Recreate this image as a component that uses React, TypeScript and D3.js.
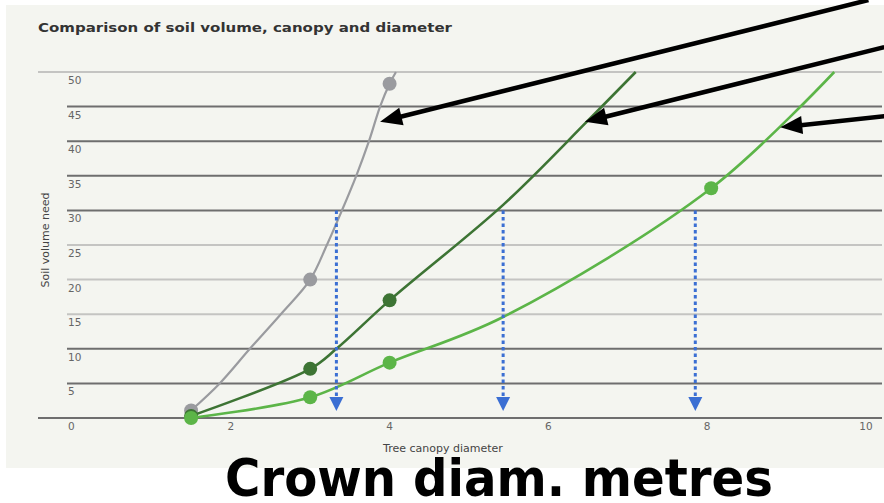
import React from "react";
import * as d3 from "d3";

const title = "Comparison of soil volume, canopy and diameter";
const yTicks = [0, 5, 10, 15, 20, 25, 30, 35, 40, 45, 50];
const xTicks = [0, 2, 4, 6, 8, 10];
const darkGridTicks = [0, 5, 10, 30, 35, 40, 45];

// Series (x = canopy diameter, y = soil volume)
const grayX = [1.5, 1.86, 2.24, 2.63, 3, 3.21, 3.4, 3.58, 3.74, 3.88, 4, 4.08];
const grayY = [1.1, 5, 10, 15, 20, 25, 30, 35, 40, 45, 48.3, 50];
const grayMarkers = [0, 4, 10];

const darkX = [1.5, 3, 3.33, 4, 5.43, 6.5, 7.1];
const darkY = [0.3, 7.1, 10, 17, 30.8, 43, 50];
const darkMarkers = [0, 1, 3];

const lightX = [1.5, 3, 4, 5.43, 8.05, 9.6];
const lightY = [0, 3, 8, 14.6, 33.2, 50];
const lightMarkers = [0, 1, 2, 4];

// Blue dotted drop lines (x position, from y value down to y value)
const dropX = [3.33, 5.43, 7.85];
const dropFrom = 30;
const dropTo = 1;

// Black annotation arrows, in data units: start -> tip
const arrowStartX = [10.03, 10.23, 10.23];
const arrowStartY = [60.4, 53.6, 43.6];
const arrowTipX = [3.88, 6.46, 8.92];
const arrowTipY = [42.8, 42.8, 42];

const W = 884;
const H = 503;

export default function App() {
  const x = d3.scaleLinear().domain([0, 10]).range([72, 866]);
  const y = d3.scaleLinear().domain([0, 50]).range([418, 72]);
  const line = d3
    .line<[number, number]>()
    .x((d) => x(d[0]))
    .y((d) => y(d[1]))
    .curve(d3.curveCatmullRom.alpha(0.5));

  const series = [
    { xs: grayX, ys: grayY, m: grayMarkers, color: "#9a9b9f", w: 2.2 },
    { xs: darkX, ys: darkY, m: darkMarkers, color: "#3d7434", w: 2.6 },
    { xs: lightX, ys: lightY, m: lightMarkers, color: "#5cb548", w: 2.6 },
  ];

  const arrowHead = (x1: number, y1: number, x2: number, y2: number, len: number, half: number) => {
    const dx = x2 - x1;
    const dy = y2 - y1;
    const L = Math.hypot(dx, dy);
    const ux = dx / L;
    const uy = dy / L;
    const bx = x2 - ux * len;
    const by = y2 - uy * len;
    return `M${x2},${y2}L${bx - uy * half},${by + ux * half}L${bx + uy * half},${by - ux * half}Z`;
  };

  return (
    <svg
      width={W}
      height={H}
      style={{ position: "absolute", left: 0, top: 0, background: "#ffffff" }}
      fontFamily="'DejaVu Sans', sans-serif"
    >
      <rect x={6} y={5} width={W - 6} height={463} fill="#f4f5f0" />
      <text x={38} y={32} fontSize={13} fontWeight="bold" fill="#333" textLength={414} lengthAdjust="spacingAndGlyphs">
        {title}
      </text>

      {yTicks.map((t) => (
        <g key={t}>
          <line
            x1={t === 0 || t === 50 ? 38 : 67}
            x2={882}
            y1={y(t)}
            y2={y(t)}
            stroke={darkGridTicks.includes(t) ? "#6e6e6e" : "#c4c4c2"}
            strokeWidth={2}
          />
          <text x={68} y={y(t) + 12} fontSize={10.5} fill="#666">
            {t}
          </text>
        </g>
      ))}
      {xTicks.filter((t) => t !== 0).map((t) => (
        <text key={t} x={x(t)} y={y(0) + 12} fontSize={10.5} fill="#666" textAnchor="middle">
          {t}
        </text>
      ))}

      <text
        transform={`translate(49,240) rotate(-90)`}
        textAnchor="middle"
        fontSize={11}
        fill="#444"
      >
        Soil volume need
      </text>
      <text x={443} y={452} textAnchor="middle" fontSize={11} fill="#444">
        Tree canopy diameter
      </text>

      {series.map((s, i) => (
        <g key={i}>
          <path
            d={line(s.xs.map((v, j) => [v, s.ys[j]] as [number, number])) || ""}
            fill="none"
            stroke={s.color}
            strokeWidth={s.w}
          />
          {s.m.map((j) => (
            <circle key={j} cx={x(s.xs[j])} cy={y(s.ys[j])} r={7} fill={s.color} />
          ))}
        </g>
      ))}

      {dropX.map((dx, i) => (
        <g key={i}>
          <line
            x1={x(dx)}
            x2={x(dx)}
            y1={y(dropFrom)}
            y2={y(dropTo) - 12}
            stroke="#3b6fd3"
            strokeWidth={3}
            strokeDasharray="3.5 3"
          />
          <path
            d={`M${x(dx) - 7},${y(dropTo) - 14}L${x(dx) + 7},${y(dropTo) - 14}L${x(dx)},${y(dropTo)}Z`}
            fill="#3b6fd3"
          />
        </g>
      ))}

      {arrowTipX.map((tx, i) => {
        const x1 = x(arrowStartX[i]);
        const y1 = y(arrowStartY[i]);
        const x2 = x(tx);
        const y2 = y(arrowTipY[i]);
        const L = Math.hypot(x2 - x1, y2 - y1);
        const sx = x2 - ((x2 - x1) / L) * 16;
        const sy = y2 - ((y2 - y1) / L) * 16;
        return (
          <g key={i}>
            <line x1={x1} y1={y1} x2={sx} y2={sy} stroke="#000" strokeWidth={4.5} />
            <path d={arrowHead(x1, y1, x2, y2, 22, 9)} fill="#000" />
          </g>
        );
      })}

      <text
        x={499}
        y={496}
        textAnchor="middle"
        fontSize={52}
        fontWeight="bold"
        fill="#000"
        fontFamily="'DejaVu Sans Condensed', 'DejaVu Sans', sans-serif"
        fontStretch="condensed"
        textLength={548}
        lengthAdjust="spacingAndGlyphs"
      >
        Crown diam. metres
      </text>
    </svg>
  );
}
